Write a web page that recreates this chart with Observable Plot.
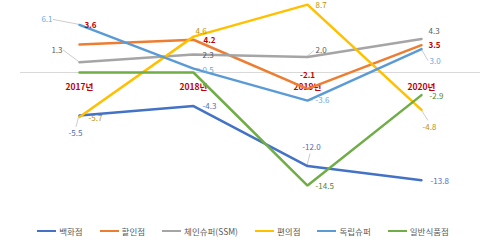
<!DOCTYPE html>
<html><head><meta charset="utf-8">
<script src="https://cdn.jsdelivr.net/npm/d3@7"></script>
<script src="https://cdn.jsdelivr.net/npm/@observablehq/plot@0.6"></script>
<style>
body{margin:0;background:#fff;font-family:"Noto Sans CJK KR","Noto Sans",sans-serif;}
#legend{display:flex;justify-content:center;gap:17px;font-size:8.5px;color:#595959;height:20px;align-items:center;margin-top:29px;padding-left:0}
#legend span{display:flex;align-items:center;gap:3px}
#legend i{display:inline-block;width:19px;height:2.5px}
</style></head><body>
<div id="chart"></div>
<div id="legend"></div>
<script>
const years = ["2017년", "2018년", "2019년", "2020년"];
const seriesNames = ["백화점", "할인점", "체인슈퍼(SSM)", "편의점", "독립슈퍼", "일반식품점"];
const dept      = [-5.5, -4.3, -12.0, -13.8];
const discount  = [3.6, 4.2, -2.1, 3.5];
const ssm       = [1.3, 2.3, 2.0, 4.3];
const conv      = [-5.7, 4.6, 8.7, -4.8];
const indep     = [6.1, 0.5, -3.6, 3.0];
const grocery   = [0.0, 0.0, -14.5, -2.9];
const seriesValues = [dept, discount, ssm, conv, indep, grocery];
// which points carry a value label (grocery 2017/2018 unlabeled)
const labeled = [[1,1,1,1],[1,1,1,1],[1,1,1,1],[1,1,1,1],[1,1,1,1],[0,0,1,1]];

const lineColors  = ["#4472C4", "#ED7D31", "#A5A5A5", "#FFC000", "#5B9BD5", "#70AD47"];
const labelColors = ["#4F6DB8", "#C00000", "#595959", "#BF9000", "#6FA8DC", "#548235"];
// label offsets [dx, dy, anchor] per series per year
const nudge = [
  [[-4,18,"middle"],[9,0,"start"],[4,-19,"middle"],[9,1,"start"]],
  [[5,-19,"start"],[10,1,"start"],[0,-13,"middle"],[7,0,"start"]],
  [[-17,-12,"end"],[9,1,"start"],[8,-6,"start"],[7,-8,"start"]],
  [[9,1,"start"],[2,-5,"start"],[8,1,"start"],[8,17,"middle"]],
  [[-27,-5,"end"],[9,2,"start"],[8,0,"start"],[8,12,"start"]],
  [[0,0,"start"],[0,0,"start"],[8,1,"start"],[8,1,"start"]]
];

const data = [];
seriesNames.forEach((s, i) => years.forEach((y, j) => data.push({
  series: s, si: i, year: y, value: seriesValues[i][j], lab: labeled[i][j],
  dx: nudge[i][j][0], dy: nudge[i][j][1], anchor: nudge[i][j][2]
})));

const leaders = [
  ["독립슈퍼","2017년",[-26,-5]], ["체인슈퍼(SSM)","2017년",[-16,-12]], ["백화점","2017년",[-3,12]],
  ["체인슈퍼(SSM)","2019년",[7,-6]], ["백화점","2019년",[3,-12]], ["독립슈퍼","2020년",[7,12]],
  ["편의점","2020년",[7,11]], ["독립슈퍼","2019년",[6,0]], ["독립슈퍼","2018년",[7,1]]
];

const fmt = v => v.toFixed(1);
const marks = [
  Plot.ruleY([0], {stroke: "#D9D9D9", strokeWidth: 1}),
  Plot.text(years, {x: d => d, y: () => 0, dy: 15, text: d => d, fill: "#C00000", fontWeight: "bold", fontSize: 8.5})
];
seriesNames.forEach((s, i) => {
  marks.push(Plot.line(data.filter(d => d.si === i), {x: "year", y: "value", stroke: lineColors[i], strokeWidth: 2.5, strokeLinejoin: "miter"}));
});
data.filter(d => d.lab).forEach(d => {
  marks.push(Plot.text([d], {x: "year", y: "value", text: e => fmt(e.value), dx: d.dx, dy: d.dy, textAnchor: d.anchor,
    fill: labelColors[d.si], fontSize: 8, fontWeight: d.si === 1 ? "bold" : "normal"}));
});

const chart = Plot.plot({
  width: 486, height: 192,
  marginLeft: 20, marginRight: 6, marginTop: 0, marginBottom: 0,
  style: {fontFamily: '"Noto Sans CJK KR","Noto Sans",sans-serif', background: "#fff"},
  x: {type: "point", domain: years, range: [78, 422], padding: 0, axis: null},
  y: {domain: [-15, 9], range: [72 + 15 * 7.8, 72 - 9 * 7.8], axis: null},
  marks
});

// leader lines drawn through the chart's own scales
const xs = chart.scale("x"), ys = chart.scale("y");
const svg = d3.select(chart);
const g = svg.insert("g", ":first-child");
leaders.forEach(([s, y, [ox, oy]]) => {
  const d = data.find(e => e.series === s && e.year === y);
  const px = xs.apply(d.year), py = ys.apply(d.value);
  g.append("line").attr("x1", px).attr("y1", py).attr("x2", px + ox).attr("y2", py + oy)
    .attr("stroke", "#BFBFBF").attr("stroke-width", 0.8);
});
document.getElementById("chart").appendChild(chart);

const lg = d3.select("#legend");
seriesNames.forEach((s, i) => {
  const sp = lg.append("span");
  sp.append("i").style("background", lineColors[i]);
  sp.append("b").style("font-weight", "normal").text(s);
});
</script>
</body></html>
